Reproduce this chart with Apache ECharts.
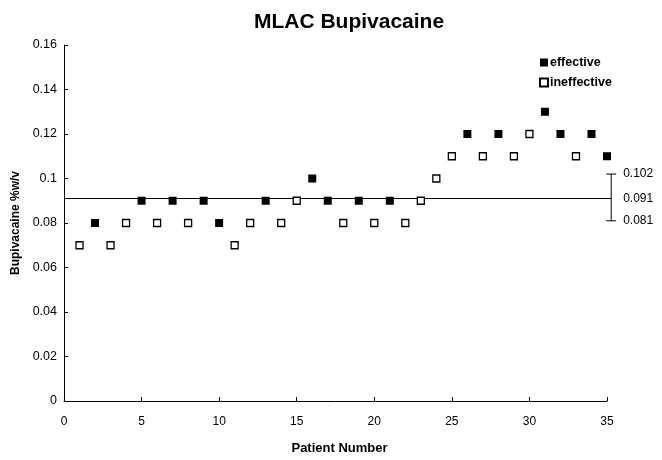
<!DOCTYPE html>
<html>
<head>
<meta charset="utf-8">
<script src="https://cdn.jsdelivr.net/npm/echarts@6/dist/echarts.min.js"></script>
<style>html,body{margin:0;padding:0;background:#fff}#c{width:662px;height:460px}</style>
</head>
<body>
<div id="c"></div>
<script>
const titleText = 'MLAC Bupivacaine';
const xTitle = 'Patient Number';
const yTitle = 'Bupivacaine %w/v';
const effPatients = [2, 5, 7, 9, 10, 13, 16, 17, 19, 21, 26, 28, 31, 32, 34, 35];
const effValues   = [0.08, 0.09, 0.09, 0.09, 0.08, 0.09, 0.10, 0.09, 0.09, 0.09, 0.12, 0.12, 0.13, 0.12, 0.12, 0.11];
const ineffPatients = [1, 3, 4, 6, 8, 11, 12, 14, 15, 18, 20, 22, 23, 24, 25, 27, 29, 30, 33];
const ineffValues   = [0.07, 0.07, 0.08, 0.08, 0.08, 0.07, 0.08, 0.08, 0.09, 0.08, 0.08, 0.08, 0.09, 0.10, 0.11, 0.11, 0.11, 0.12, 0.11];
const mlac = 0.091;
const ciLow = 0.081;
const ciHigh = 0.102;
const ciX = 35.27;
const capHalf = 0.32;

const FONT = "'Liberation Sans', Arial, sans-serif";
const chart = echarts.init(document.getElementById('c'));
chart.setOption({
  animation: false,
  backgroundColor: '#fff',
  title: {
    text: titleText, left: 344, top: 7, textAlign: 'center',
    textStyle: { fontFamily: FONT, fontWeight: 'bold', fontSize: 21, color: '#000' }
  },
  legend: {
    data: ['effective', 'ineffective'],
    orient: 'vertical', left: 534, top: 51, itemGap: 7,
    itemWidth: 8, itemHeight: 8, icon: 'rect',
    textStyle: { fontFamily: FONT, fontWeight: 'bold', fontSize: 12.5, color: '#000', padding: [0, 0, 0, -3] }
  },
  grid: { left: 64, right: 55, top: 45, bottom: 52 },
  xAxis: {
    type: 'value', min: 0, max: 35, interval: 5,
    name: xTitle, nameLocation: 'middle', nameGap: 41,
    nameTextStyle: { fontFamily: FONT, fontWeight: 'bold', fontSize: 13, color: '#000', padding: [0, 0, 0, 8] },
    axisLine: { lineStyle: { color: '#000', width: 1 } },
    axisTick: { inside: true, length: 4, lineStyle: { color: '#000' } },
    axisLabel: { fontFamily: FONT, fontSize: 12, color: '#000', margin: 15 },
    splitLine: { show: false }
  },
  yAxis: {
    type: 'value', min: 0, max: 0.16, interval: 0.02,
    name: yTitle, nameLocation: 'middle', nameGap: 39,
    nameTextStyle: { fontFamily: FONT, fontWeight: 'bold', fontSize: 12, color: '#000' },
    axisLine: { show: true, lineStyle: { color: '#000', width: 1 } },
    axisTick: { show: true, inside: true, length: 4, lineStyle: { color: '#000' } },
    axisLabel: { fontFamily: FONT, fontSize: 12.5, color: '#000', margin: 7,
      formatter: v => String(+v.toFixed(2)) },
    splitLine: { show: false }
  },
  series: [
    {
      name: 'mean', type: 'custom', silent: true, z: 1, clip: false,
      data: [[ciX, mlac, ciLow, ciHigh]],
      renderItem: (params, api) => {
        const x = api.value(0);
        const m = api.coord([0, api.value(1)]);
        const mEnd = api.coord([x, api.value(1)]);
        const lo = api.coord([x, api.value(2)]);
        const hi = api.coord([x, api.value(3)]);
        const capL = api.coord([x - capHalf, 0])[0];
        const capR = api.coord([x + capHalf, 0])[0];
        const style = { stroke: '#000', lineWidth: 1 };
        const txt = (y, t) => ({ type: 'text', style: { x: capR + 7, y: y, text: t,
          font: "12px 'Liberation Sans', Arial, sans-serif", fill: '#000', verticalAlign: 'middle' } });
        return { type: 'group', children: [
          { type: 'line', shape: { x1: m[0], y1: m[1], x2: mEnd[0], y2: mEnd[1] }, style },
          { type: 'line', shape: { x1: lo[0], y1: lo[1], x2: hi[0], y2: hi[1] }, style },
          { type: 'line', shape: { x1: capL, y1: hi[1], x2: capR, y2: hi[1] }, style },
          { type: 'line', shape: { x1: capL, y1: lo[1], x2: capR, y2: lo[1] }, style },
          txt(hi[1], api.value(3).toFixed(3)),
          txt(m[1], api.value(1).toFixed(3)),
          txt(lo[1], api.value(2).toFixed(3))
        ] };
      }
    },
    {
      name: 'effective', type: 'scatter', symbol: 'rect', symbolSize: 8, z: 3,
      itemStyle: { color: '#000', opacity: 1 },
      data: effPatients.map((p, i) => [p, effValues[i]])
    },
    {
      name: 'ineffective', type: 'scatter', symbol: 'rect', symbolSize: 7, z: 3,
      itemStyle: { color: '#fff', borderColor: '#000', borderWidth: 1.3, opacity: 1 },
      data: ineffPatients.map((p, i) => [p, ineffValues[i]])
    }
  ]
});
</script>
</body>
</html>
